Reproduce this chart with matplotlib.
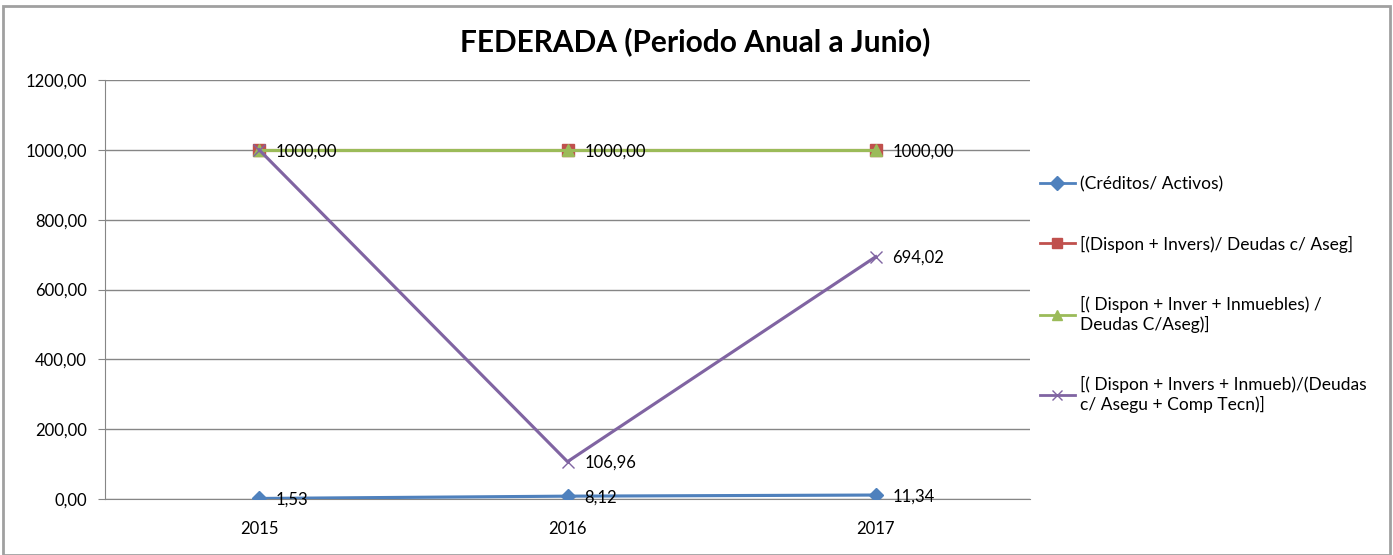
import numpy as np
import matplotlib.pyplot as plt
from matplotlib.patches import Rectangle

plt.rcParams['font.family'] = ['Lato', 'DejaVu Sans']

# data
years = ["2015", "2016", "2017"]
creditos = [1.53, 8.12, 11.34]
dispon_invers = [1000.0, 1000.0, 1000.0]
dispon_inver_inm = [1000.0, 1000.0, 1000.0]
dispon_invers_inm_comp = [1000.0, 106.96, 694.02]

names = ["(Créditos/ Activos)",
         "[(Dispon + Invers)/ Deudas c/ Aseg]",
         "[( Dispon + Inver + Inmuebles) /\nDeudas C/Aseg)]",
         "[( Dispon + Invers + Inmueb)/(Deudas\nc/ Asegu + Comp Tecn)]"]

fig = plt.figure(figsize=(13.93, 5.55), dpi=100)
ax = fig.add_axes([105/1393, 56/555, 925/1393, 419/555])

x = np.arange(len(years))
ax.plot(x, creditos, color="#4F81BD", lw=2.25, marker="D", ms=7, label=names[0], zorder=5)
ax.plot(x, dispon_invers, color="#C0504D", lw=2.25, marker="s", ms=8, label=names[1], zorder=3)
ax.plot(x, dispon_inver_inm, color="#9BBB59", lw=2.25, marker="^", ms=8, label=names[2], zorder=4)
ax.plot(x, dispon_invers_inm_comp, color="#8064A2", lw=2.25, marker="x", ms=9, mew=1,
        label=names[3], zorder=4)

def lab(v):
    return "{:.2f}".format(v).replace(".", ",")

fs = 12
# data labels
for i in range(3):
    ax.annotate(lab(creditos[i]), (x[i], creditos[i]), xytext=(12, -1),
                textcoords="offset points", va="center", fontsize=fs, zorder=6)
    ax.annotate(lab(dispon_inver_inm[i]), (x[i], dispon_inver_inm[i]), xytext=(12, -1),
                textcoords="offset points", va="center", fontsize=fs, zorder=6)
for i in [1, 2]:
    ax.annotate(lab(dispon_invers_inm_comp[i]), (x[i], dispon_invers_inm_comp[i]),
                xytext=(12, -1), textcoords="offset points", va="center", fontsize=fs, zorder=6)

ax.set_xlim(-0.5, 2.5)
ax.set_ylim(0, 1200)
ax.set_yticks(np.arange(0, 1201, 200))
ax.set_yticklabels([lab(v) for v in np.arange(0, 1201, 200)], fontsize=fs)
ax.set_xticks(x)
ax.set_xticklabels(years, fontsize=fs)
ax.tick_params(axis="x", length=0, pad=16)
ax.tick_params(axis="y", length=5, color="#868686", pad=8)
ax.grid(axis="y", color="#868686", lw=1)
ax.set_axisbelow(True)
for s in ["top", "right"]:
    ax.spines[s].set_visible(False)
for s in ["left", "bottom"]:
    ax.spines[s].set_color("#868686")

fig.text(695/1393, 1 - 42/555, "FEDERADA (Periodo Anual a Junio)", ha="center", va="center",
         fontsize=21.5, fontweight="bold")

leg = fig.legend(loc="upper left", bbox_to_anchor=(1040/1393, 1 - 176/555), frameon=False,
                 fontsize=12.5, labelspacing=2.5, handlelength=2.0, handletextpad=0.3,
                 borderpad=0, borderaxespad=0)
for h in leg.get_lines():
    h.set_linewidth(2)
    h.set_markersize(7)

fig.patches.append(Rectangle((3/1393, 0), 1387/1393, 1 - 6/555, transform=fig.transFigure,
                             fill=False, edgecolor="#a0a0a0", lw=2))

fig.savefig("out.png", dpi=100)
